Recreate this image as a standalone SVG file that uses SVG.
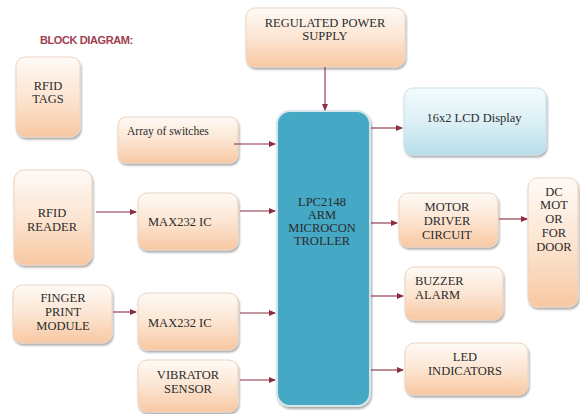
<svg xmlns="http://www.w3.org/2000/svg" width="580" height="414" viewBox="0 0 580 414">
<defs>
<linearGradient id="peach" x1="0" y1="0" x2="0" y2="1">
<stop offset="0" stop-color="#fefaf6"/>
<stop offset="0.5" stop-color="#fce5d2"/>
<stop offset="1" stop-color="#f8c8a2"/>
</linearGradient>
<linearGradient id="blue" x1="0" y1="0" x2="0" y2="1">
<stop offset="0" stop-color="#f4fbfd"/>
<stop offset="0.5" stop-color="#dcf0f6"/>
<stop offset="1" stop-color="#b7dde9"/>
</linearGradient>
<filter id="sh" x="-10%" y="-10%" width="125%" height="125%">
<feGaussianBlur in="SourceAlpha" stdDeviation="1.2"/>
<feOffset dx="1" dy="1.5" result="b"/>
<feComponentTransfer><feFuncA type="linear" slope="0.35"/></feComponentTransfer>
<feMerge><feMergeNode/><feMergeNode in="SourceGraphic"/></feMerge>
</filter>
<marker id="ah" markerWidth="7" markerHeight="6" refX="6" refY="3" orient="auto" markerUnits="userSpaceOnUse">
<path d="M0,0 L7,3 L0,6 Z" fill="#8a2e40"/>
</marker>
</defs>
<style>
.p{fill:url(#peach);stroke:#ecd3c0;stroke-width:1;filter:url(#sh)}
.b{fill:url(#blue);stroke:#c6e2ea;stroke-width:1;filter:url(#sh)}
.m{fill:#44a8c4;stroke:#d8e6ec;stroke-width:2;filter:url(#sh)}
text{font-family:"Liberation Serif","Times New Roman",serif;font-size:12.5px;fill:#2b2b2b}
.s{font-size:11.5px}
.c{text-anchor:middle}
.t{font-family:"Liberation Sans",Arial,sans-serif;font-weight:bold;font-size:11px;fill:#a03e4e;letter-spacing:-0.4px}
.a{stroke:#8a2e40;stroke-width:1.1;fill:none;marker-end:url(#ah)}
</style>
<rect width="580" height="414" fill="#ffffff"/>
<text class="t" x="40" y="44">BLOCK DIAGRAM:</text>

<g id="power">
<rect class="p" x="246" y="8" width="159" height="59" rx="9"/>
<text class="c" x="325" y="27">REGULATED POWER</text>
<text class="c" x="325" y="40">SUPPLY</text>
</g>
<g id="rfidtags">
<rect class="p" x="16" y="57" width="64" height="80" rx="9"/>
<text class="c" x="48" y="90">RFID</text>
<text class="c" x="48" y="103">TAGS</text>
</g>
<g id="switches">
<rect class="p" x="118" y="117" width="120" height="46" rx="8"/>
<text class="s" x="127" y="135">Array of switches</text>
</g>
<g id="mcu">
<rect class="m" x="277" y="111" width="93" height="295" rx="13"/>
<text class="c" x="322" y="206">LPC2148</text>
<text class="c" x="322" y="219">ARM</text>
<text class="c" x="322" y="232">MICROCON</text>
<text class="c" x="322" y="245">TROLLER</text>
</g>
<g id="lcd">
<rect class="b" x="404" y="88" width="142" height="67" rx="9"/>
<text class="c" x="474" y="122">16x2 LCD Display</text>
</g>
<g id="rfidreader">
<rect class="p" x="14" y="170" width="78" height="95" rx="10"/>
<text class="c" x="52" y="217">RFID</text>
<text class="c" x="52" y="231">READER</text>
</g>
<g id="max1">
<rect class="p" x="138" y="193" width="100" height="57" rx="9"/>
<text x="148" y="226">MAX232 IC</text>
</g>
<g id="motor">
<rect class="p" x="399" y="193" width="99" height="54" rx="9"/>
<text class="c" x="447" y="211">MOTOR</text>
<text class="c" x="447" y="225">DRIVER</text>
<text class="c" x="447" y="239">CIRCUIT</text>
</g>
<g id="dcmotor">
<rect class="p" x="528" y="178" width="50" height="129" rx="9"/>
<text class="c" x="554" y="196">DC</text>
<text class="c" x="554" y="209">MOT</text>
<text class="c" x="554" y="223">OR</text>
<text class="c" x="554" y="237">FOR</text>
<text class="c" x="554" y="251">DOOR</text>
</g>
<g id="buzzer">
<rect class="p" x="405" y="267" width="98" height="53" rx="9"/>
<text x="415" y="285">BUZZER</text>
<text x="415" y="299">ALARM</text>
</g>
<g id="finger">
<rect class="p" x="13" y="285" width="99" height="58" rx="9"/>
<text class="c" x="63" y="302">FINGER</text>
<text class="c" x="63" y="316">PRINT</text>
<text class="c" x="63" y="330">MODULE</text>
</g>
<g id="max2">
<rect class="p" x="138" y="293" width="100" height="57" rx="9"/>
<text x="148" y="327">MAX232 IC</text>
</g>
<g id="led">
<rect class="p" x="405" y="343" width="123" height="52" rx="9"/>
<text class="c" x="465" y="361">LED</text>
<text class="c" x="465" y="375">INDICATORS</text>
</g>
<g id="vibrator">
<rect class="p" x="138" y="360" width="100" height="52" rx="9"/>
<text class="c" x="188" y="379">VIBRATOR</text>
<text class="c" x="188" y="393">SENSOR</text>
</g>

<g id="connectors">
<path class="a" d="M325,67 V110"/>
<path class="a" d="M371,128 H402"/>
<path class="a" d="M234,144 H275"/>
<path class="a" d="M96,212 H136"/>
<path class="a" d="M240,211 H275"/>
<path class="a" d="M371,223 H397"/>
<path class="a" d="M499,219 H527"/>
<path class="a" d="M371,296 H403"/>
<path class="a" d="M113,312 H136"/>
<path class="a" d="M240,313 H275"/>
<path class="a" d="M371,370 H403"/>
<path class="a" d="M240,380 H275"/>
</g>
</svg>
